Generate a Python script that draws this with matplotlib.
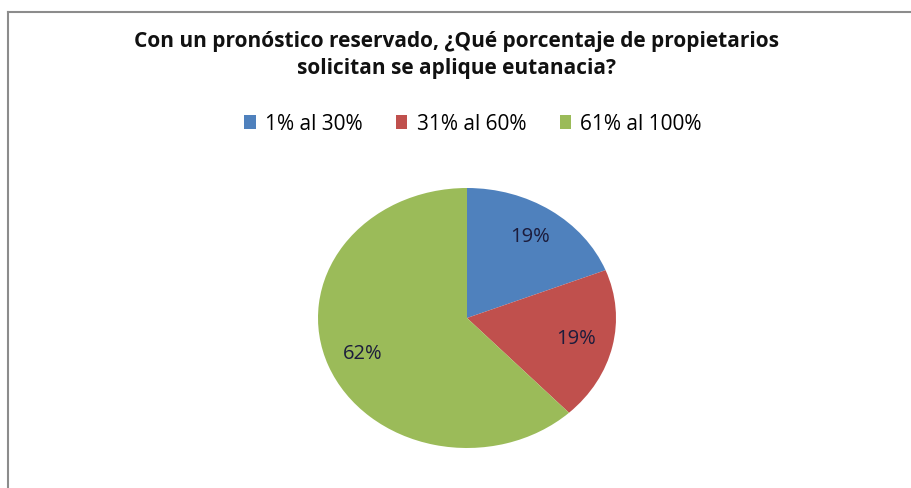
import matplotlib
matplotlib.use("Agg")
import matplotlib.pyplot as plt
from matplotlib.lines import Line2D
from matplotlib.patches import Patch

categories = ["1% al 30%", "31% al 60%", "61% al 100%"]
values = [19, 19, 62]
colors = ["#4F81BD", "#C0504D", "#9BBB59"]
title = "Con un pronóstico reservado, ¿Qué porcentaje de propietarios\nsolicitan se aplique eutanacia?"

W, H = 912, 488
fig = plt.figure(figsize=(W / 100, H / 100), dpi=100)
fig.patch.set_facecolor("white")

# frame lines (chart area border)
fig.add_artist(Line2D([8 / W, 1], [1 - 12 / H, 1 - 12 / H], color="#8c8c8c", lw=1.5))
fig.add_artist(Line2D([8 / W, 8 / W], [0, 1 - 12 / H], color="#8c8c8c", lw=1.5))

ax = fig.add_axes([318 / W, (H - 448) / H, 298 / W, 260 / H])
wedges, texts, autotexts = ax.pie(
    values, colors=colors, startangle=90, counterclock=False,
    autopct=lambda p: f"{p:.0f}%", pctdistance=0.75,
    wedgeprops=dict(linewidth=0),
    textprops=dict(fontsize=14.5, color="#1c1c3c", family="Open Sans"))
ax.set_aspect("auto")
ax.set_xlim(-1, 1)
ax.set_ylim(-1, 1)
ax.axis("off")

fig.text(457 / W, 1 - 55 / H, title, ha="center", va="center", fontsize=15,
         fontweight="bold", family="Open Sans", color="#111111", linespacing=1.35)

handles = [Patch(facecolor=c, edgecolor="none") for c in colors]
fig.legend(handles, categories, loc="center", bbox_to_anchor=(473 / W, 1 - 124 / H),
           ncol=3, frameon=False, handlelength=0.55, handleheight=0.65,
           handletextpad=0.45, columnspacing=1.6, prop=dict(family="Open Sans", size=15))

fig.savefig("out.png", dpi=100, facecolor="white")
